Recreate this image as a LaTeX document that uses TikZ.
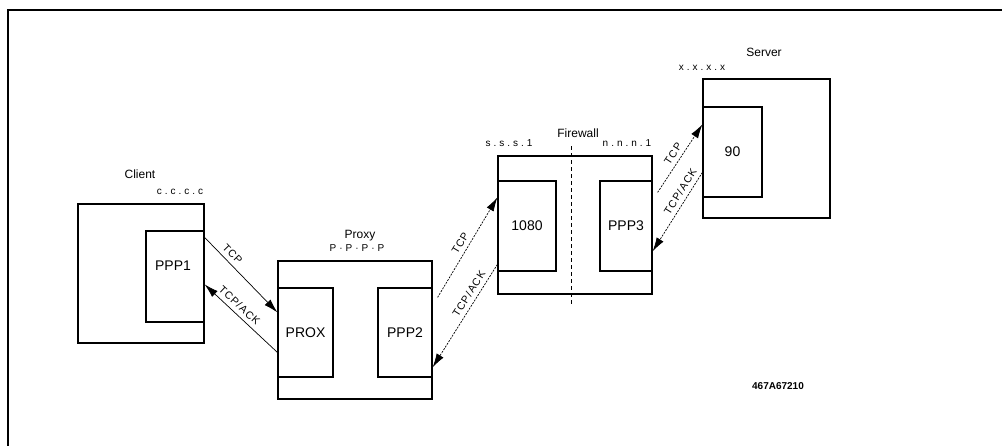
\documentclass[tikz,border=0pt]{standalone}
\usepackage{fontspec}
\setmainfont{Liberation Sans}
\newfontfamily\addrfont[LetterSpace=30]{Liberation Sans}
\newfontfamily\arrfont[LetterSpace=10]{Liberation Sans}
\usetikzlibrary{arrows.meta,calc}

\tikzset{
  box/.style 2 args={draw,line width=1.2pt,minimum width=#1pt,minimum height=#2pt,
    inner sep=0pt,font=\fontsize{14}{16}\selectfont},
  hostlbl/.style={font=\fontsize{12}{14}\selectfont},
  addrlbl/.style={font=\addrfont\fontsize{10}{12}\selectfont},
  msg/.style={sloped,above=1pt,font=\arrfont\fontsize{10.5}{12}\selectfont},
  link/.style={->,line width=0.7pt},
  dlink/.style={->,line width=0.7pt,dash pattern=on 2pt off 1.2pt},
}

\begin{document}
\begin{tikzpicture}[x=1pt,y=-1pt,>={Latex[length=14pt,width=8pt]}]
\useasboundingbox (0,0) rectangle (1002,446);
% frame
\draw[line width=1.2pt] (1010,10) -- (8,10) -- (8,452);

% client
\node[box={126}{139}] (client) at (141,273.5) {};
\node[box={58}{91}] (ppp1) at (175,276.5) {};
\node[font=\fontsize{14}{16}\selectfont] (ppp1txt) at (173,266) {PPP1};
\node[hostlbl] (clientlbl) at (140,174) {Client};
\node[addrlbl] (clientip) at (180,192) {c.c.c.c};

% proxy
\node[box={154}{138}] (proxy) at (355,330) {};
\node[box={55}{89}] (prox) at (305.5,332.5) {PROX};
\node[box={54}{89}] (ppp2) at (405,332.5) {PPP2};
\node[hostlbl] (proxylbl) at (360,236) {Proxy};
\node[addrlbl] (proxyip) at (357,248) {P{\textperiodcentered}P{\textperiodcentered}P{\textperiodcentered}P};

% firewall
\node[box={154}{138}] (firewall) at (575,225) {};
\node[box={58}{90}] (port1080) at (527,226) {1080};
\node[box={52}{90}] (ppp3) at (626,226) {PPP3};
\draw[line width=1pt,dash pattern=on 4pt off 3pt] ($(firewall.north)+(-4,-9)$) -- ($(firewall.south)+(-4,10)$);
\node[hostlbl] (fwlbl) at (578,133) {Firewall};
\node[addrlbl] (fwin) at (509,143) {s.s.s.1};
\node[addrlbl] (fwout) at (627,143) {n.n.n.1};

% server
\node[box={127}{139}] (server) at (766.5,148.5) {};
\node[box={59}{90}] (port90) at (732.5,152) {90};
\node[hostlbl] (serverlbl) at (764,52) {Server};
\node[addrlbl] (serverip) at (702,68) {x.x.x.x};

% connections
\draw[link] ($(ppp1.north east)+(0,7)$) -- node[msg,pos=0.3] {TCP} ($(prox.north west)+(0,25)$);
\draw[link] ($(prox.north west)+(0,65)$) -- node[msg,pos=0.6] {TCP/ACK} ($(ppp1.north east)+(0,54)$);
\draw[dlink] ($(ppp2.north east)+(5,10)$) -- node[msg,pos=0.5] {TCP} ($(port1080.north west)+(0,17)$);
\draw[dlink] ($(port1080.north west)+(0,84)$) -- node[msg,pos=0.33] {TCP/ACK} ($(ppp2.north east)+(0,80)$);
\draw[dlink] ($(ppp3.north east)+(5,12)$) -- node[msg,pos=0.5] {TCP} ($(port90.north west)+(0,18)$);
\draw[dlink] ($(port90.north west)+(0,66)$) -- node[msg,pos=0.3] {TCP/ACK} ($(ppp3.north east)+(0,71)$);

\node[font=\bfseries\fontsize{10}{12}\selectfont] (figid) at (778,386) {467A67210};
\end{tikzpicture}
\end{document}
